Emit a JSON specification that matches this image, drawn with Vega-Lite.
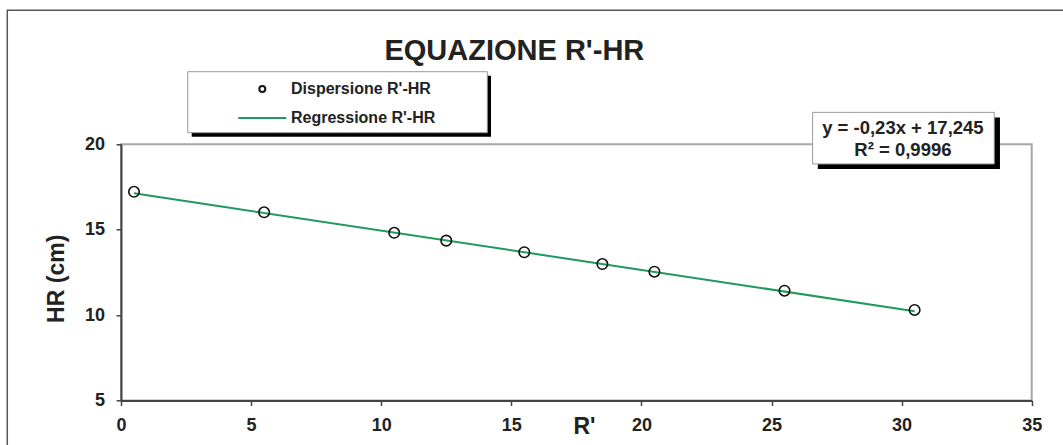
{
  "$schema": "https://vega.github.io/schema/vega-lite/v6.json",
  "width": 910.7,
  "height": 256.2,
  "autosize": "none",
  "padding": {"left": 121, "top": 144.3, "right": 31.3, "bottom": 44.5},
  "background": "white",
  "title": {
    "text": "EQUAZIONE R'-HR",
    "font": "Liberation Sans",
    "fontSize": 29,
    "fontWeight": "bold",
    "color": "#222222",
    "anchor": "middle",
    "frame": "group",
    "baseline": "alphabetic",
    "dx": -62,
    "dy": 79.5,
    "offset": 0
  },
  "config": {
    "font": "Liberation Sans",
    "view": {"stroke": "#a6a6a6", "strokeWidth": 2},
    "axis": {
      "labelFont": "Liberation Sans",
      "labelFontSize": 18,
      "labelFontWeight": "bold",
      "labelColor": "#222222",
      "titleFont": "Liberation Sans",
      "titleFontSize": 23,
      "titleFontWeight": "bold",
      "titleColor": "#222222",
      "domainColor": "#444444",
      "domainWidth": 2,
      "tickColor": "#444444",
      "tickSize": 5,
      "tickWidth": 1.5,
      "gridColor": "#c4c4c4",
      "gridWidth": 1,
      "labelFlush": false,
      "labelOverlap": false
    },
    "legend": {
      "orient": "none",
      "legendX": 116.3,
      "legendY": -69.5,
      "padding": 0,
      "rowPadding": 0,
      "clipHeight": 28.3,
      "symbolSize": 2304,
      "symbolStrokeWidth": 2,
      "labelOffset": 3.7,
      "labelFont": "Liberation Sans",
      "labelFontSize": 16,
      "labelFontWeight": "bold",
      "labelColor": "#222222",
      "labelLimit": 400,
      "zindex": 1
    }
  },
  "datasets": {
    "punti": [
      {"R": 0.5, "HR": 17.22, "serie": "Dispersione R'-HR"},
      {"R": 5.5, "HR": 16.02, "serie": "Dispersione R'-HR"},
      {"R": 10.5, "HR": 14.82, "serie": "Dispersione R'-HR"},
      {"R": 12.5, "HR": 14.36, "serie": "Dispersione R'-HR"},
      {"R": 15.5, "HR": 13.68, "serie": "Dispersione R'-HR"},
      {"R": 18.5, "HR": 12.99, "serie": "Dispersione R'-HR"},
      {"R": 20.5, "HR": 12.54, "serie": "Dispersione R'-HR"},
      {"R": 25.5, "HR": 11.43, "serie": "Dispersione R'-HR"},
      {"R": 30.5, "HR": 10.3, "serie": "Dispersione R'-HR"}
    ],
    "retta": [
      {"R": 0.5, "HR": 17.13, "serie": "Regressione R'-HR"},
      {"R": 30.5, "HR": 10.23, "serie": "Regressione R'-HR"}
    ],
    "nota": [
      {"equazione": "y = -0,23x + 17,245", "r2": "R² = 0,9996"}
    ]
  },
  "layer": [
    {
      "data": {"name": "nota"},
      "mark": {"type": "rect", "fill": "transparent", "stroke": "#555555", "strokeWidth": 1.5},
      "encoding": {
        "x": {"datum": -4.37, "type": "quantitative", "title": "R'", "scale": {"domain": [0, 35], "nice": false, "zero": false}},
        "x2": {"datum": 45},
        "y": {"datum": 27.85, "type": "quantitative", "title": "HR (cm)", "scale": {"domain": [5, 20], "nice": false, "zero": false}},
        "y2": {"datum": -10}
      }
    },
    {
      "data": {"name": "nota"},
      "mark": {"type": "rect", "fill": "#000000"},
      "encoding": {
        "x": {"datum": 2.717, "type": "quantitative", "title": "R'", "scale": {"domain": [0, 35], "nice": false, "zero": false}},
        "x2": {"datum": 14.22},
        "y": {"datum": 24.02, "type": "quantitative", "title": "HR (cm)", "scale": {"domain": [5, 20], "nice": false, "zero": false}},
        "y2": {"datum": 20.445}
      }
    },
    {
      "data": {"name": "nota"},
      "mark": {"type": "rect", "fill": "#ffffff", "stroke": "#9a9a9a", "strokeWidth": 1},
      "encoding": {
        "x": {"datum": 2.563, "type": "quantitative", "title": "R'", "scale": {"domain": [0, 35], "nice": false, "zero": false}},
        "x2": {"datum": 14.077},
        "y": {"datum": 24.25, "type": "quantitative", "title": "HR (cm)", "scale": {"domain": [5, 20], "nice": false, "zero": false}},
        "y2": {"datum": 20.68}
      }
    },
    {
      "data": {"name": "nota"},
      "mark": {"type": "rect", "fill": "#000000"},
      "encoding": {
        "x": {"datum": 26.78, "type": "quantitative", "title": "R'", "scale": {"domain": [0, 35], "nice": false, "zero": false}},
        "x2": {"datum": 33.78},
        "y": {"datum": 21.57, "type": "quantitative", "title": "HR (cm)", "scale": {"domain": [5, 20], "nice": false, "zero": false}},
        "y2": {"datum": 18.55}
      }
    },
    {
      "data": {"name": "nota"},
      "mark": {"type": "rect", "fill": "#ffffff", "stroke": "#9a9a9a", "strokeWidth": 1},
      "encoding": {
        "x": {"datum": 26.58, "type": "quantitative", "title": "R'", "scale": {"domain": [0, 35], "nice": false, "zero": false}},
        "x2": {"datum": 33.56},
        "y": {"datum": 21.87, "type": "quantitative", "title": "HR (cm)", "scale": {"domain": [5, 20], "nice": false, "zero": false}},
        "y2": {"datum": 18.85}
      }
    },
    {
      "data": {"name": "retta"},
      "mark": {"type": "line", "strokeWidth": 2},
      "encoding": {
        "x": {"field": "R", "type": "quantitative", "title": "R'", "scale": {"domain": [0, 35], "nice": false, "zero": false}},
        "y": {"field": "HR", "type": "quantitative", "title": "HR (cm)", "scale": {"domain": [5, 20], "nice": false, "zero": false}},
        "color": {
          "field": "serie",
          "type": "nominal",
          "title": null,
          "scale": {"domain": ["Dispersione R'-HR", "Regressione R'-HR"], "range": ["#111111", "#1f9a5c"]},
          "legend": {
            "symbolSize": 2304,
            "encode": {"symbols": {"update": {"size": {"value": 2304}, "strokeWidth": {"value": 2}}}}
          }
        }
      }
    },
    {
      "data": {"name": "punti"},
      "mark": {"type": "point", "filled": false, "size": 7056, "strokeWidth": 1.6, "opacity": 1},
      "encoding": {
        "x": {
          "field": "R",
          "type": "quantitative",
          "title": "R'",
          "scale": {"domain": [0, 35], "nice": false, "zero": false},
          "axis": {
            "values": [0, 5, 10, 15, 20, 25, 30, 35],
            "labelBaseline": "alphabetic",
            "labelPadding": 24.5,
            "titleX": 463,
            "titleY": 32.8,
            "titleBaseline": "alphabetic",
            "titleAlign": "center"
          }
        },
        "y": {
          "field": "HR",
          "type": "quantitative",
          "title": "HR (cm)",
          "scale": {"domain": [5, 20], "nice": false, "zero": false},
          "axis": {
            "values": [5, 10, 15, 20],
            "labelPadding": 11.5,
            "titleX": -58,
            "titleY": 134,
            "titleAngle": -90,
            "titleBaseline": "alphabetic",
            "titleAlign": "center"
          }
        },
        "color": {
          "field": "serie",
          "type": "nominal",
          "title": null,
          "scale": {"domain": ["Dispersione R'-HR", "Regressione R'-HR"], "range": ["#111111", "#1f9a5c"]},
          "legend": {
            "symbolSize": 2304,
            "encode": {"symbols": {"update": {"size": {"value": 2304}, "strokeWidth": {"value": 2}}}}
          }
        },
        "shape": {
          "field": "serie",
          "type": "nominal",
          "title": null,
          "scale": {
            "domain": ["Dispersione R'-HR", "Regressione R'-HR"],
            "range": ["M-0.125,0A0.125,0.125,0,1,1,0.125,0A0.125,0.125,0,1,1,-0.125,0Z", "M-1,0L1,0"]
          },
          "legend": {
            "symbolSize": 2304,
            "encode": {"symbols": {"update": {"size": {"value": 2304}, "strokeWidth": {"value": 2}}}}
          }
        }
      }
    },
    {
      "data": {"name": "nota"},
      "mark": {
        "type": "text",
        "font": "Liberation Sans",
        "fontSize": 18.5,
        "fontWeight": "bold",
        "color": "#222222",
        "align": "center",
        "baseline": "alphabetic",
        "lineHeight": 21.7
      },
      "encoding": {
        "text": {"value": ["y = -0,23x + 17,245", "R² = 0,9996"]},
        "x": {"datum": 30.05, "type": "quantitative", "title": "R'", "scale": {"domain": [0, 35], "nice": false, "zero": false}},
        "y": {"datum": 20.585, "type": "quantitative", "title": "HR (cm)", "scale": {"domain": [5, 20], "nice": false, "zero": false}}
      }
    }
  ]
}
